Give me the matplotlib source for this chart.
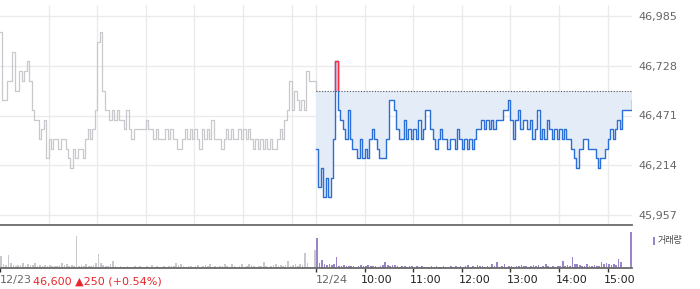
import numpy as np
import matplotlib
matplotlib.use("Agg")
import matplotlib.pyplot as plt
from matplotlib.patches import Rectangle
from matplotlib.transforms import ScaledTranslation

plt.rcParams["font.family"] = ["DejaVu Sans", "Noto Sans CJK KR"]

# 3-minute samples, 09:00-15:30 for each session
STEP = 3
prev_price = [
    46900, 46550, 46550, 46650, 46650, 46800, 46600, 46600, 46700, 46650,
    46700, 46750, 46650, 46500, 46450, 46450, 46350, 46400, 46450, 46250,
    46350, 46300, 46350, 46350, 46300, 46350, 46350, 46300, 46250, 46200,
    46300, 46250, 46300, 46300, 46250, 46350, 46400, 46350, 46400, 46500,
    46850, 46900, 46600, 46500, 46500, 46450, 46500, 46450, 46500, 46450,
    46450, 46400, 46500, 46400, 46350, 46400, 46400, 46400, 46400, 46400,
    46450, 46400, 46400, 46350, 46400, 46350, 46350, 46350, 46400, 46350,
    46400, 46350, 46350, 46300, 46300, 46350, 46400, 46350, 46400, 46350,
    46400, 46350, 46300, 46400, 46350, 46400, 46350, 46450, 46350, 46350,
    46350, 46300, 46350, 46400, 46350, 46400, 46350, 46350, 46400, 46350,
    46400, 46350, 46400, 46350, 46300, 46350, 46300, 46350, 46300, 46350,
    46300, 46350, 46300, 46300, 46350, 46400, 46350, 46450, 46500, 46650,
    46500, 46600, 46550, 46500, 46550, 46500, 46700, 46650, 46650, 46650,
    46600,
]
today_price = [
    46300, 46100, 46200, 46050, 46150, 46050, 46150, 46350, 46750, 46500,
    46450, 46400, 46350, 46500, 46350, 46300, 46300, 46250, 46350, 46250,
    46300, 46250, 46350, 46400, 46350, 46300, 46250, 46250, 46250, 46350,
    46550, 46550, 46500, 46400, 46350, 46350, 46450, 46350, 46400, 46350,
    46400, 46350, 46450, 46350, 46400, 46500, 46500, 46400, 46350, 46300,
    46350, 46400, 46350, 46350, 46300, 46350, 46350, 46300, 46400, 46350,
    46300, 46350, 46300, 46350, 46300, 46350, 46400, 46400, 46450, 46400,
    46450, 46400, 46450, 46400, 46450, 46450, 46450, 46500, 46500, 46550,
    46450, 46350, 46450, 46500, 46400, 46450, 46450, 46400, 46450, 46350,
    46400, 46500, 46350, 46400, 46350, 46450, 46400, 46350, 46400, 46350,
    46400, 46350, 46400, 46350, 46350, 46300, 46250, 46200, 46300, 46300,
    46350, 46350, 46300, 46300, 46300, 46250, 46200, 46250, 46250, 46300,
    46350, 46400, 46350, 46400, 46450, 46400, 46500, 46500, 46500, 46500,
    46550,
]
prev_vol = [
    12, 4, 3, 13, 5, 3, 2, 3, 3, 5, 2, 4, 3, 3, 5, 2, 3, 2, 3, 2,
    3, 2, 2, 2, 3, 5, 3, 4, 2, 3, 2, 32, 2, 3, 2, 4, 2, 2, 3, 5,
    14, 5, 3, 2, 2, 4, 7, 2, 1, 2, 1, 1, 2, 1, 1, 2, 1, 2, 1, 1,
    2, 1, 3, 1, 2, 1, 1, 2, 1, 2, 2, 2, 5, 3, 4, 2, 1, 2, 2, 1,
    2, 3, 1, 2, 3, 2, 4, 1, 2, 1, 2, 2, 4, 2, 1, 4, 2, 1, 2, 4,
    1, 2, 4, 3, 2, 1, 2, 2, 6, 2, 1, 2, 3, 4, 2, 3, 2, 3, 7, 2,
    3, 4, 2, 4, 3, 15, 5, 1, 1, 18,
]
today_vol = [
    30, 5, 8, 4, 3, 4, 3, 4, 11, 2, 2, 3, 2, 2, 2, 2, 1, 2, 3, 2,
    2, 3, 2, 2, 2, 1, 2, 3, 6, 3, 2, 3, 3, 2, 1, 2, 2, 1, 2, 2,
    1, 2, 1, 2, 1, 1, 1, 2, 1, 2, 1, 1, 2, 1, 1, 2, 1, 2, 1, 2,
    1, 2, 3, 1, 2, 1, 3, 2, 2, 1, 2, 1, 4, 2, 6, 1, 2, 4, 1, 2,
    2, 1, 2, 2, 3, 2, 2, 1, 2, 3, 2, 3, 1, 2, 4, 2, 1, 2, 1, 2,
    2, 7, 2, 3, 2, 11, 4, 4, 3, 2, 2, 4, 2, 2, 3, 2, 2, 6, 4, 5,
    4, 3, 4, 3, 9, 6, 0, 0, 0, 36,
]
prev_close = 46600
y_ticks = [45957, 46214, 46471, 46728, 46985]
x_ticks = [0, 390, 450, 510, 570, 630, 690, 750]
x_labels = ["12/23", "12/24", "10:00", "11:00", "12:00", "13:00", "14:00", "15:00"]
grid_x = [60, 120, 180, 240, 300, 360, 390, 450, 510, 570, 630, 690, 750]
quote_text = "46,600 \u25b2250 (+0.54%)"

W, H = 700, 289
def box(x0, y0, x1, y1):
    return [x0 / W, 1 - y1 / H, (x1 - x0) / W, (y1 - y0) / H]

fig = plt.figure(figsize=(W / 100, H / 100), dpi=100)
ax = fig.add_axes(box(0, 5, 632, 225))
axv = fig.add_axes(box(0, 228, 632, 268), sharex=ax)

t_prev = np.arange(len(prev_price)) * STEP
t_today = 390 + np.arange(len(today_price)) * STEP

# price panel
ax.set_xlim(0, 780)
px = 1028 / 199
ax.set_ylim(45957 - 10 * px, 45957 + 210 * px)
for gx in grid_x:
    ax.axvline(gx, color="#ebebeb", lw=1, zorder=0)
for gy in y_ticks:
    ax.axhline(gy, color="#ebebeb", lw=1, zorder=0)

ax.plot(t_prev, prev_price, color="#c9c9cd", lw=0.9, drawstyle="steps-post", zorder=2)
ax.fill_between(t_today, today_price, prev_close, step="post", color="#e4ecf8", lw=0, zorder=1)
ax.hlines(prev_close, 390, 780, color="#555555", lw=0.8, linestyles=(0, (1, 1.5)), zorder=3)
ax.plot(t_today, today_price, color="#2a6fd6", lw=1.0, drawstyle="steps-post", zorder=4)
red, = ax.plot(t_today, today_price, color="#ff2a3a", lw=1.0, drawstyle="steps-post", zorder=5)
clip = Rectangle((390, prev_close), 400, 2000, transform=ax.transData)
red.set_clip_path(clip)

ax.yaxis.tick_right()
ax.set_yticks(y_ticks)
ax.set_yticklabels([f"{v:,}" for v in y_ticks])
ax.tick_params(axis="y", length=0, pad=4.5, labelsize=8, labelcolor="#666666")
ax.tick_params(axis="x", length=0, labelbottom=False)
for s in ["top", "left", "right"]:
    ax.spines[s].set_visible(False)
ax.spines["bottom"].set_color("#6a6a6a")
ax.spines["bottom"].set_linewidth(1.3)

# volume panel
axv.set_ylim(0, 40)
axv.bar(t_prev[:-1] + STEP / 2, prev_vol, width=2, color="#c9c9cd", lw=0)
axv.bar(t_today[:-1] + STEP / 2, today_vol, width=2, color="#9a85c8", lw=0)
for s in ["top", "left", "right"]:
    axv.spines[s].set_visible(False)
axv.spines["bottom"].set_color("#6a6a6a")
axv.spines["bottom"].set_linewidth(1.3)
axv.set_yticks([])
axv.set_xticks(x_ticks)
axv.set_xticklabels(x_labels)
axv.tick_params(axis="x", length=3, width=1, color="#333333", pad=2, labelsize=8)
for lbl in axv.get_xticklabels():
    lbl.set_horizontalalignment("left")
    if "/" in lbl.get_text():
        lbl.set_color("#666666")
    else:
        lbl.set_color("#222222")
        lbl.set_transform(lbl.get_transform() + ScaledTranslation(-3.5 / 100, 0, fig.dpi_scale_trans))

fig.text(33 / W, 1 - 282 / H, quote_text, color="#e8262b", fontsize=8, va="center", ha="left")
fig.patches.append(Rectangle((652.5 / W, 1 - 244.5 / H), 2.5 / W, 7.5 / H,
                             transform=fig.transFigure, color="#9a85c8", lw=0))
fig.text(657.5 / W, 1 - 241 / H, "거래량", color="#444444", fontsize=6.5, va="center", ha="left",
         family=["Noto Sans CJK KR", "DejaVu Sans"])

fig.savefig("out.png", dpi=100)
